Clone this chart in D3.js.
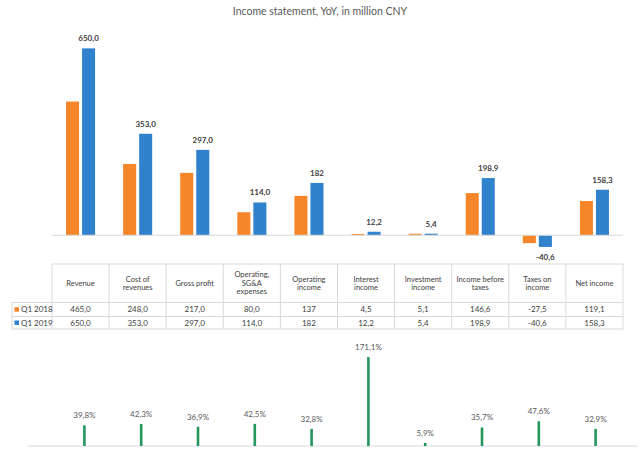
<!DOCTYPE html>
<html>
<head>
<meta charset="utf-8">
<script src="https://cdn.jsdelivr.net/npm/d3@7"></script>
<style>
  body { margin: 0; background: #fff; }
  svg { display: block; font-family: Lato, "Open Sans", sans-serif; }
</style>
</head>
<body>
<svg id="chart" width="640" height="456"></svg>
<script>
// values
var categories = ["Revenue", "Cost of revenues", "Gross profit", "Operating, SG&A expenses",
  "Operating income", "Interest income", "Investment income", "Income before taxes",
  "Taxes on income", "Net income"];
var headerLines = [["Revenue"], ["Cost of", "revenues"], ["Gross profit"], ["Operating,", "SG&A", "expenses"],
  ["Operating", "income"], ["Interest", "income"], ["Investment", "income"], ["Income before", "taxes"],
  ["Taxes on", "income"], ["Net income"]];
var series = ["Q1 2018", "Q1 2019"];
var q1_2018 = [465.0, 248.0, 217.0, 80.0, 137, 4.5, 5.1, 146.6, -27.5, 119.1];
var q1_2019 = [650.0, 353.0, 297.0, 114.0, 182, 12.2, 5.4, 198.9, -40.6, 158.3];
var decimals = [1, 1, 1, 1, 0, 1, 1, 1, 1, 1];
var yoy = [39.8, 42.3, 36.9, 42.5, 32.8, 171.1, 5.9, 35.7, 47.6, 32.9];

var colors = { "Q1 2018": "#f5862a", "Q1 2019": "#3182cc" };
var green = "#22965c";
var grid = "#d9d9d9";

function fmt(v, d) {
  return v.toFixed(d).replace(".", ",");
}

var svg = d3.select("#chart");

svg.append("text")
  .attr("x", 320).attr("y", 15)
  .attr("text-anchor", "middle")
  .attr("font-size", 10.5)
  .attr("fill", "#595959")
  .text("Income statement, YoY, in million CNY");

// ---- top bar chart
var x0 = d3.scaleBand().domain(categories).range([52, 623]);
var x1 = d3.scaleBand().domain(series).range([0, x0.bandwidth()])
  .paddingInner(3 / 16).paddingOuter(14 / 16);
var y = d3.scaleLinear().domain([-100, 700]).range([264, 34]);

var rows = categories.map(function(c, i) {
  return { cat: c, vals: [{ s: "Q1 2018", v: q1_2018[i] }, { s: "Q1 2019", v: q1_2019[i] }], i: i };
});

var groups = svg.append("g").selectAll("g")
  .data(rows).enter().append("g")
  .attr("transform", function(d) { return "translate(" + x0(d.cat) + ",0)"; });

groups.selectAll("rect")
  .data(function(d) { return d.vals; })
  .enter().append("rect")
  .attr("x", function(d) { return x1(d.s); })
  .attr("width", x1.bandwidth())
  .attr("y", function(d) { return y(Math.max(0, d.v)); })
  .attr("height", function(d) { return Math.abs(y(d.v) - y(0)); })
  .attr("fill", function(d) { return colors[d.s]; });

svg.append("line")
  .attr("x1", 52).attr("x2", 623)
  .attr("y1", y(0)).attr("y2", y(0))
  .attr("stroke", grid).attr("stroke-width", 1);

// labels only on the 2019 bars
groups.append("text")
  .attr("x", x1("Q1 2019") + x1.bandwidth() / 2)
  .attr("y", function(d) { var v = q1_2019[d.i]; return v >= 0 ? y(v) - 7 : y(v) + 13; })
  .attr("text-anchor", "middle")
  .attr("font-size", 8)
  .attr("font-weight", "bold")
  .attr("fill", "#404040")
  .text(function(d) { return fmt(q1_2019[d.i], decimals[d.i]); });

// ---- data table
var tTop = 264, tHead = 302.5, tRow1 = 316.5, tBot = 329, labelLeft = 12;
var table = svg.append("g").attr("stroke", grid).attr("stroke-width", 1).attr("fill", "none");
table.append("line").attr("x1", 52).attr("x2", 623).attr("y1", tTop).attr("y2", tTop);
[tHead, tRow1, tBot].forEach(function(yy) {
  table.append("line").attr("x1", labelLeft).attr("x2", 623).attr("y1", yy).attr("y2", yy);
});
table.append("line").attr("x1", labelLeft).attr("x2", labelLeft).attr("y1", tHead).attr("y2", tBot);
categories.forEach(function(c) {
  table.append("line").attr("x1", x0(c)).attr("x2", x0(c)).attr("y1", tTop).attr("y2", tBot);
});
table.append("line").attr("x1", 623).attr("x2", 623).attr("y1", tTop).attr("y2", tBot);

var head = svg.append("g").attr("font-size", 7.5).attr("fill", "#404040").attr("text-anchor", "middle");
categories.forEach(function(c, i) {
  var lines = headerLines[i];
  var cy = (tTop + tHead) / 2;
  var lh = 8.5;
  var t = head.append("text").attr("x", x0(c) + x0.bandwidth() / 2);
  lines.forEach(function(l, k) {
    t.append("tspan")
      .attr("x", x0(c) + x0.bandwidth() / 2)
      .attr("y", cy + (k - (lines.length - 1) / 2) * lh + 2.7)
      .text(l);
  });
});

var rowMid = [(tHead + tRow1) / 2, (tRow1 + tBot) / 2];
var rowVals = [q1_2018, q1_2019];
series.forEach(function(s, r) {
  svg.append("rect")
    .attr("x", 14.5).attr("y", rowMid[r] - 2.3)
    .attr("width", 4.5).attr("height", 4.5)
    .attr("fill", colors[s]);
  svg.append("text")
    .attr("x", 21).attr("y", rowMid[r] + 2.8)
    .attr("font-size", 8).attr("fill", "#404040")
    .text(s);
  categories.forEach(function(c, i) {
    svg.append("text")
      .attr("x", x0(c) + x0.bandwidth() / 2)
      .attr("y", rowMid[r] + 2.8)
      .attr("text-anchor", "middle")
      .attr("font-size", 8).attr("fill", "#404040")
      .text(fmt(rowVals[r][i], decimals[i]));
  });
});

// ---- bottom YoY chart
var xb = d3.scaleBand().domain(categories).range([56, 624]);
var yb = d3.scaleLinear().domain([0, 200]).range([446, 342]);

svg.append("line")
  .attr("x1", 28).attr("x2", 638)
  .attr("y1", yb(0)).attr("y2", yb(0))
  .attr("stroke", grid).attr("stroke-width", 1);

svg.append("g").selectAll("rect")
  .data(yoy).enter().append("rect")
  .attr("x", function(d, i) { return xb(categories[i]) + xb.bandwidth() / 2 - 1.3; })
  .attr("width", 2.6)
  .attr("y", function(d) { return yb(d); })
  .attr("height", function(d) { return yb(0) - yb(d); })
  .attr("fill", green);

svg.append("g").selectAll("text")
  .data(yoy).enter().append("text")
  .attr("x", function(d, i) { return xb(categories[i]) + xb.bandwidth() / 2; })
  .attr("y", function(d) { return yb(d) - 7; })
  .attr("text-anchor", "middle")
  .attr("font-size", 8)
  .attr("fill", "#595959")
  .text(function(d) { return fmt(d, 1) + "%"; });
</script>
</body>
</html>
